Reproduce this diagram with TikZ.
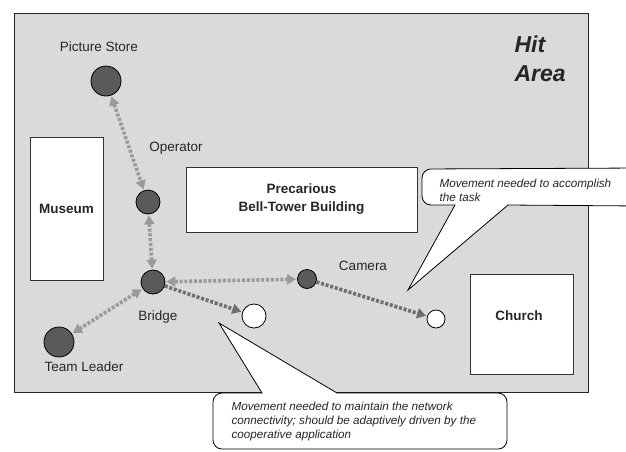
\documentclass[tikz,border=0pt]{standalone}
\usepackage{fontspec}
\setmainfont{Liberation Sans}
\usetikzlibrary{arrows.meta}

\definecolor{areagray}{HTML}{DADADA}
\definecolor{unitgray}{HTML}{5A5A5A}
\definecolor{linkgray}{HTML}{9A9A9A}
\definecolor{movegray}{HTML}{6E6E6E}

\tikzset{
  building/.style={draw=black!80, fill=white, line width=0.9pt, inner sep=0pt,
    font=\fontsize{13.5}{18}\selectfont\bfseries, align=center, text=black!85},
  unit/.style={circle, draw=black, line width=0.8pt, fill=unitgray, inner sep=0pt},
  target/.style={circle, draw=black, line width=0.8pt, fill=white, inner sep=0pt},
  tag/.style={font=\fontsize{13.5}{16}\selectfont, text=black!85},
  link/.style={linkgray, line width=3.6pt, dash pattern=on 3pt off 1.8pt,
    {Triangle[length=9pt,width=10pt]}-{Triangle[length=9pt,width=10pt]}, shorten <=1pt, shorten >=1pt},
  move/.style={movegray, line width=3.6pt, dash pattern=on 3pt off 1.8pt,
    -{Triangle[length=9pt,width=10pt]}, shorten >=1pt},
  callout/.style={draw=black, fill=white, line width=0.8pt},
  note/.style={font=\fontsize{11.7}{14}\selectfont\itshape, align=left, text=black!85, anchor=west}
}

\begin{document}
\begin{tikzpicture}[x=1pt, y=-1pt]
  \fill[white] (0,0) rectangle (626,451);
  \clip (0,0) rectangle (626,451);

  % the hit area and its buildings
  \node[draw=black!85, fill=areagray, line width=0.9pt, minimum width=574pt, minimum height=379pt] (area) at (301,202.5) {};
  \node[anchor=west, font=\fontsize{23}{29}\selectfont\bfseries\itshape, align=left, text=black!85] (areatitle) at (511,59) {Hit\\Area};

  \node[building, minimum width=73pt, minimum height=143pt] (museum) at (66.5,208.5) {Museum};
  \node[building, minimum width=231pt, minimum height=65pt] (belltower) at (301.5,199.5) {Precarious\\Bell-Tower Building};
  \node[building, minimum width=103pt, minimum height=100pt] (church) at (521.5,324) {};
  \node[font=\fontsize{13.5}{18}\selectfont\bfseries, text=black!85] (churchlbl) at (519,316) {Church};

  % team members: name / x / y / diameter
  \foreach \who/\x/\y/\d in {store/106/81/30, operator/148/202/24, bridge/153/282/24,
                             leader/59/342/30, camera/307/279/19} {
    \node[unit, minimum size=\d pt] (\who) at (\x,\y) {};
  }
  % places where members have to move
  \node[target, minimum size=24pt] (spot1) at (254,316) {};
  \node[target, minimum size=18pt] (spot2) at (436,319) {};

  % labels
  \node[tag] (storelbl) at (99,47) {Picture Store};
  \node[tag] (operatorlbl) at (176,148) {Operator};
  \node[tag] (bridgelbl) at (158,317) {Bridge};
  \node[tag] (leaderlbl) at (84,367) {Team Leader};
  \node[tag] (cameralbl) at (363,266) {Camera};

  % network links
  \draw[link] (store) -- (operator);
  \draw[link] (operator) -- (bridge);
  \draw[link] (bridge) -- (leader);
  \draw[link] (bridge) -- (camera);
  \draw[move] (bridge) -- (spot1);
  \draw[move] (camera) -- (spot2);

  % callouts
  \coordinate (tip1) at (408,290);
  \draw[callout] (tip1) -- (508,205) {[rounded corners=9pt] -- (640,206)
    -- (640,168) -- (422,169) -- (422,205)} -- (455,205) -- cycle;
  \node[note] (note1) at (436,190) {Movement needed to accomplish\\the task};

  \coordinate (tip2) at (219,323);
  \draw[callout] (tip2) -- (337,393) {[rounded corners=9pt] -- (507,393)
    -- (507,449) -- (213,449) -- (213,393)} -- (262,393) -- cycle;
  \node[note] (note2) at (228,421) {Movement needed to maintain the network\\connectivity; should be adaptively driven by the\\cooperative application};
\end{tikzpicture}
\end{document}
